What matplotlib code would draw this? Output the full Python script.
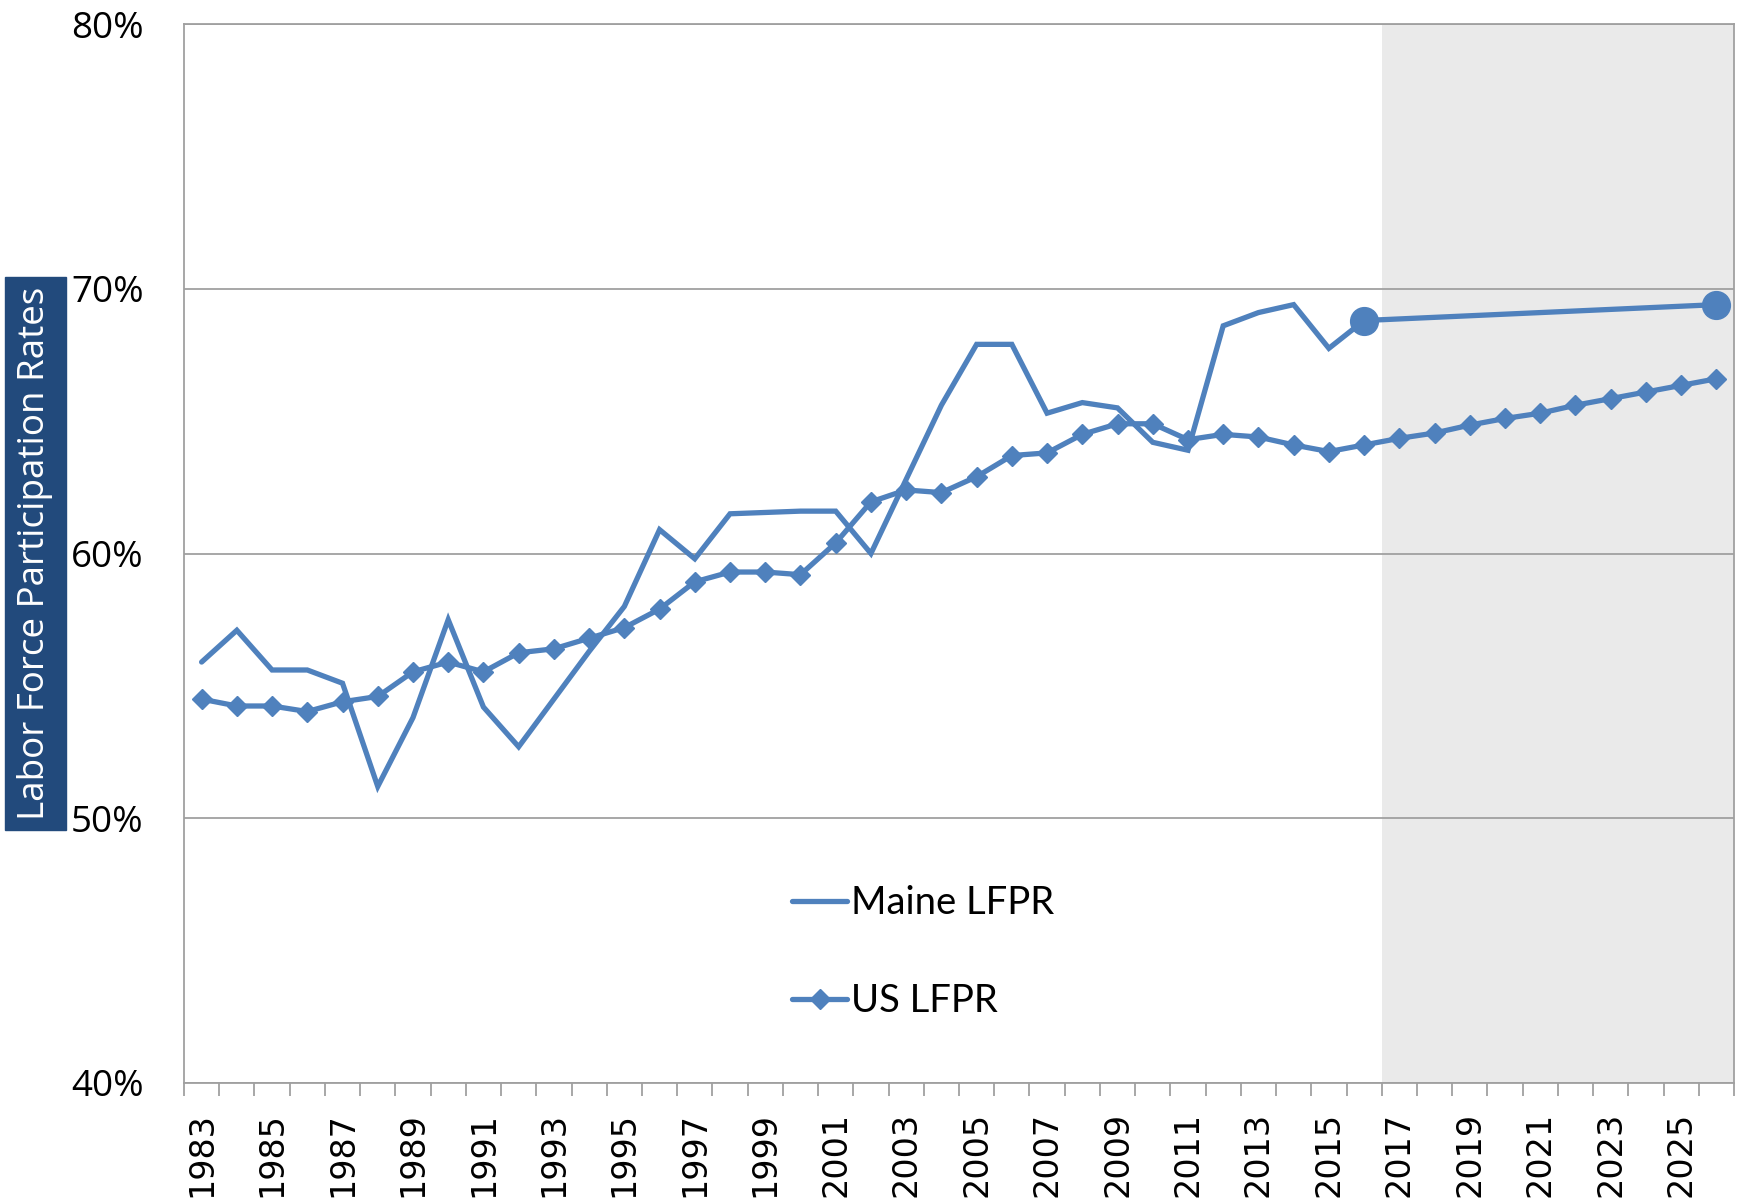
import numpy as np
import matplotlib
matplotlib.use("Agg")
import matplotlib.pyplot as plt
from matplotlib.patches import Rectangle
from matplotlib.lines import Line2D

years = list(range(1983, 2027))
maine_lfpr = [55.9, 57.1, 55.6, 55.6, 55.1, 51.2, 53.8, 57.5, 54.2, 52.7,
              54.5, 56.3, 58.0, 60.9, 59.8, 61.5, 61.55, 61.6, 61.6, 60.0,
              62.8, 65.6, 67.9, 67.9, 65.3, 65.7, 65.5, 64.2, 63.9, 68.6,
              69.1, 69.4, 67.75, 68.8,
              None, None, None, None, None, None, None, None, None,
              69.4]
us_lfpr = [54.5, 54.24, 54.24, 54.03, 54.4, 54.6, 55.53, 55.9, 55.53, 56.25,
           56.4, 56.8, 57.2, 57.9, 58.93, 59.3, 59.3, 59.2, 60.4, 61.95,
           62.4, 62.3, 62.9, 63.7, 63.8, 64.5, 64.9, 64.9, 64.3, 64.5,
           64.4, 64.1, 63.85, 64.1, 64.35, 64.55, 64.85, 65.1, 65.3, 65.6,
           65.85, 66.1, 66.35, 66.6]
maine_marked_years = [2016, 2026]
projection_start = 2017
series_names = ["Maine LFPR", "US LFPR"]
y_ticks = [40, 50, 60, 70, 80]
y_title = "Labor Force Participation Rates"

BLUE = "#4F81BD"
GRID = "#A0A0A0"

W, H = 1737, 1199
fig = plt.figure(figsize=(W / 100, H / 100), dpi=100)
L, R, T, B = 184, 1734, 24, 1083
ax = fig.add_axes([L / W, (H - B) / H, (R - L) / W, (B - T) / H])

idx = np.arange(len(years))
maine = np.array([np.nan if v is None else v for v in maine_lfpr])
ok = ~np.isnan(maine)

ax.axvspan(years.index(projection_start) - 0.5, len(years) - 0.5,
           color="#EAEAEA", zorder=0, lw=0)

ax.plot(idx[ok], maine[ok], color=BLUE, lw=3.8, solid_joinstyle="miter",
        solid_capstyle="round", zorder=3)
mi = [years.index(y) for y in maine_marked_years]
ax.plot(mi, maine[mi], ls="none", marker="o", ms=20, color=BLUE, zorder=4)
ax.plot(idx, us_lfpr, color=BLUE, lw=3.8, marker="D", ms=10,
        solid_joinstyle="miter", zorder=3)

ax.set_xlim(-0.5, len(years) - 0.5)
ax.set_ylim(40, 80)

ax.set_yticks(y_ticks)
ax.set_yticklabels([f"{v}%" for v in y_ticks], fontsize=26.5,
                   fontfamily="Open Sans")
ax.tick_params(axis="y", length=0, pad=29)
ax.yaxis.grid(True, color=GRID, lw=1.3)
ax.set_axisbelow(True)

lab_idx = [i for i, y in enumerate(years) if y % 2 == 1]
ax.set_xticks(lab_idx)
ax.set_xticklabels([str(years[i]) for i in lab_idx], rotation=90,
                   fontsize=24, fontfamily="DejaVu Sans")
ax.tick_params(axis="x", which="major", length=0, pad=21)
ax.set_xticks(np.arange(len(years) + 1) - 0.5, minor=True)
ax.tick_params(axis="x", which="minor", length=9.5, width=1.3, color=GRID)

for s in ax.spines.values():
    s.set_color(GRID)
    s.set_linewidth(1.3)

# y-axis title box
bx0, bx1, by0, by1 = 5, 66, 277, 830
fig.patches.append(Rectangle((bx0 / W, (H - by1) / H), (bx1 - bx0) / W,
                             (by1 - by0) / H, transform=fig.transFigure,
                             color="#224A7C", zorder=5))
fig.text((bx0 + bx1) / 2 / W, (H - (by0 + by1) / 2) / H, y_title,
         rotation=90, color="white", fontsize=26.5, fontfamily="Open Sans",
         ha="center", va="center", zorder=6)

handles = [Line2D([], [], color=BLUE, lw=3.8, solid_capstyle="round"),
           Line2D([], [], color=BLUE, lw=3.8, marker="D", ms=10,
                  solid_capstyle="round")]
ax.legend(handles, series_names, loc="center left",
          bbox_to_anchor=(792 / W, (H - 952) / H),
          bbox_transform=fig.transFigure, frameon=False,
          prop={"family": "Lato", "size": 27.5}, handlelength=1.45,
          handletextpad=0.1, labelspacing=1.62, borderpad=0, borderaxespad=0)

fig.savefig("out.png", dpi=100)
